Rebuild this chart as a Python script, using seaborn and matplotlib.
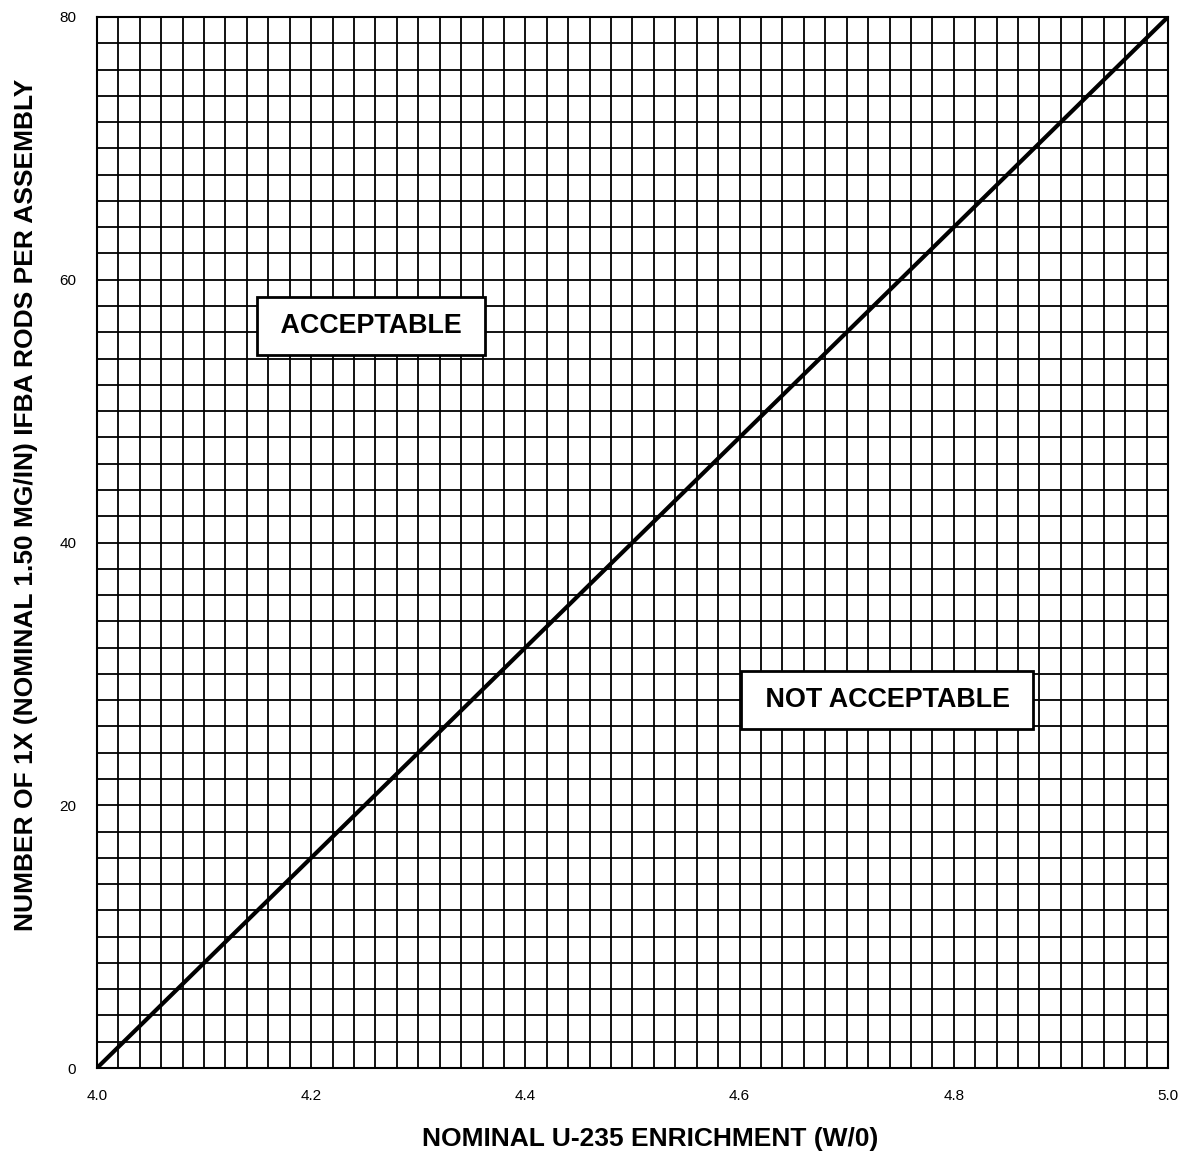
import numpy as np
import pandas as pd
import matplotlib
matplotlib.use("Agg")
import matplotlib.pyplot as plt
import seaborn as sns
from matplotlib.ticker import MultipleLocator

# Limit line: acceptable IFBA rod count vs enrichment
enrichment = [4.0, 5.0]
ifba_rods = [0, 80]

x_ticks = [4.0, 4.2, 4.4, 4.6, 4.8, 5.0]
y_ticks = [0, 20, 40, 60, 80]

region_labels = ["ACCEPTABLE", "NOT ACCEPTABLE"]
region_x = [4.256, 4.738]
region_y = [56.5, 28.0]

df = pd.DataFrame({"enrichment": enrichment, "rods": ifba_rods})

sns.set_style("white")
plt.rcParams['font.family'] = ['Liberation Sans', 'DejaVu Sans']
plt.rcParams['text.color'] = 'black'
plt.rcParams['axes.labelcolor'] = 'black'
plt.rcParams['xtick.color'] = 'black'
plt.rcParams['ytick.color'] = 'black'

fig = plt.figure(figsize=(12, 11.55), dpi=100)
ax = fig.add_axes([0.0808, 0.0753, 0.8925, 0.91])

sns.lineplot(data=df, x="enrichment", y="rods", color="black", linewidth=3, ax=ax)

ax.set_xlim(4.0, 5.0)
ax.set_ylim(0, 80)
ax.set_xticks(x_ticks)
ax.set_yticks(y_ticks)
ax.set_xticklabels([f"{v:.1f}" for v in x_ticks], fontsize=11)
ax.set_yticklabels([str(v) for v in y_ticks], fontsize=11)
ax.xaxis.set_minor_locator(MultipleLocator(0.02))
ax.yaxis.set_minor_locator(MultipleLocator(2))
ax.grid(which="both", color="black", linewidth=1.3)
ax.tick_params(which="major", direction="out", length=7, width=1.2, color="black", pad=8)
ax.tick_params(which="minor", length=0)
for s in ax.spines.values():
    s.set_color("black")
    s.set_linewidth(1.5)

ax.set_xlabel("NOMINAL U-235 ENRICHMENT (W/0)", fontsize=19, fontweight="bold")
ax.xaxis.set_label_coords(0.517, -0.056)
ax.set_ylabel("NUMBER OF 1X (NOMINAL 1.50 MG/IN) IFBA RODS PER ASSEMBLY", fontsize=19,
              fontweight="bold")
ax.yaxis.set_label_coords(-0.055, 0.536)

for lab, xv, yv in zip(region_labels, region_x, region_y):
    ax.text(xv, yv, " " + lab + " ", fontsize=19.4, fontweight="bold", ha="center", va="center",
            zorder=5,
            bbox=dict(boxstyle="square,pad=0.6", facecolor="white", edgecolor="black", linewidth=2))

fig.savefig("out.png", dpi=100)
